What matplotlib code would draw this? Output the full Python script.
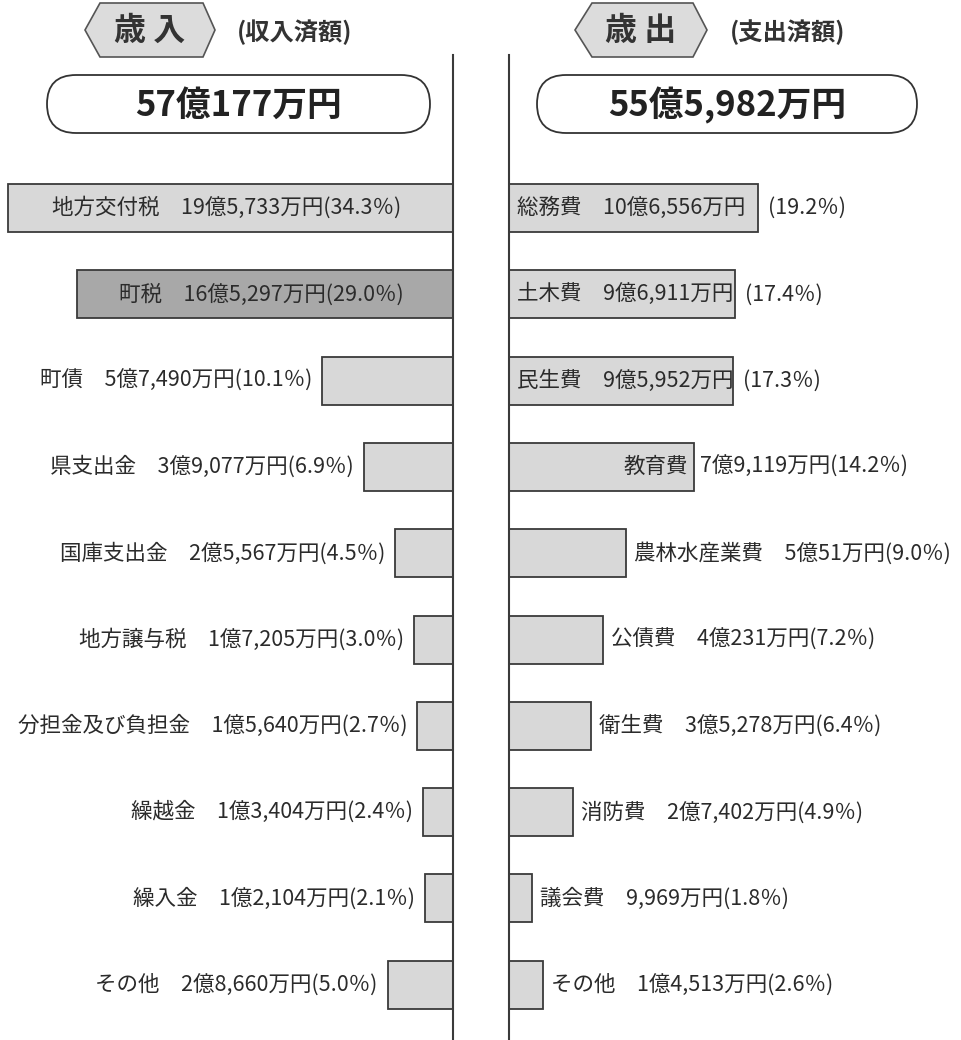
import numpy as np
import matplotlib
matplotlib.use('Agg')
import matplotlib.pyplot as plt
from matplotlib.patches import Polygon, FancyBboxPatch

plt.rcParams['font.family'] = ['Noto Sans CJK JP', 'DejaVu Sans']

# 歳入 (万円)
rev_labels = ['地方交付税', '町税', '町債', '県支出金', '国庫支出金', '地方譲与税',
              '分担金及び負担金', '繰越金', '繰入金', 'その他']
rev_values = [195733, 165297, 57490, 39077, 25567, 17205, 15640, 13404, 12104, 28660]
rev_pct = [34.3, 29.0, 10.1, 6.9, 4.5, 3.0, 2.7, 2.4, 2.1, 5.0]
rev_total = 570177

# 歳出 (万円)
exp_labels = ['総務費', '土木費', '民生費', '教育費', '農林水産業費', '公債費',
              '衛生費', '消防費', '議会費', 'その他']
exp_values = [106556, 96911, 95952, 79119, 50051, 40231, 35278, 27402, 9969, 14513]
exp_pct = [19.2, 17.4, 17.3, 14.2, 9.0, 7.2, 6.4, 4.9, 1.8, 2.6]
exp_total = 555982


def yen(v):
    oku, man = divmod(v, 10000)
    if oku:
        return f'{oku}億{man:,}万円'
    return f'{man:,}万円'


def pct(p):
    return f'({p:.1f}％)'


W, H = 961, 1040
fig = plt.figure(figsize=(W / 100, H / 100), dpi=100)

row0, step = 208, 86.3
ylim = ((H - row0) / step, -row0 / step)
bar_h = 48 / step
edge = '#3a3a3a'
txt = '#2b2b2b'
fs = 15.5

# 左: 歳入
axL = fig.add_axes([0, 0, 453 / W, 1])
axL.patch.set_alpha(0)
axL.set_xlim(453 / 22.73, 0)
axL.set_ylim(*ylim)
axL.axis('off')
rows = np.arange(len(rev_values))
rv = np.array(rev_values) / 10000
colors = ['#d8d8d8'] * len(rv)
colors[1] = '#a8a8a8'
axL.barh(rows, rv, height=bar_h, color=colors, edgecolor=edge, linewidth=1.3)
axL.axvline(0, ymin=0, ymax=(H - 55) / H, color=edge, lw=1.5, clip_on=False)
for i, (lab, v, p) in enumerate(zip(rev_labels, rev_values, rev_pct)):
    s = f'{lab}　{yen(v)}{pct(p)}'
    if i < 2:
        axL.annotate(s, (v / 10000 / 2, i), xytext=(-4, 0), textcoords='offset pixels',
                     ha='center', va='center', fontsize=fs, color=txt)
    else:
        axL.annotate(s, (v / 10000, i), xytext=(-10, 0), textcoords='offset pixels',
                     ha='right', va='center', fontsize=fs, color=txt)

# 右: 歳出
axR = fig.add_axes([509 / W, 0, (W - 509) / W, 1])
axR.patch.set_alpha(0)
axR.set_xlim(0, (W - 509) / 23.35)
axR.set_ylim(*ylim)
axR.axis('off')
ev = np.array(exp_values) / 10000
axR.barh(rows, ev, height=bar_h, color='#d8d8d8', edgecolor=edge, linewidth=1.3)
axR.axvline(0, ymin=0, ymax=(H - 55) / H, color=edge, lw=1.5, clip_on=False)
for i, (lab, v, p) in enumerate(zip(exp_labels, exp_values, exp_pct)):
    x = v / 10000
    if i < 3:
        axR.annotate(f'{lab}　{yen(v)}', (0, i), xytext=(8, 0), textcoords='offset pixels',
                     ha='left', va='center', fontsize=fs, color=txt)
        axR.annotate(pct(p), (x, i), xytext=(10, 0), textcoords='offset pixels',
                     ha='left', va='center', fontsize=fs, color=txt)
    elif i == 3:
        axR.annotate(lab, (x, i), xytext=(-6, 0), textcoords='offset pixels',
                     ha='right', va='center', fontsize=fs, color=txt)
        axR.annotate(f'{yen(v)}{pct(p)}', (x, i), xytext=(6, 0), textcoords='offset pixels',
                     ha='left', va='center', fontsize=fs, color=txt)
    else:
        axR.annotate(f'{lab}　{yen(v)}{pct(p)}', (x, i), xytext=(8, 0),
                     textcoords='offset pixels', ha='left', va='center',
                     fontsize=fs, color=txt, annotation_clip=False)

# 見出し
top = fig.add_axes([0, 0, 1, 1], zorder=5)
top.patch.set_alpha(0)
top.set_xlim(0, W)
top.set_ylim(H, 0)
top.axis('off')

for (x0, x1, x2, x3), title, sub, tx, sx in [
        ((85, 100, 203, 215), '歳 入', '(収入済額)', 150, 237),
        ((575, 592, 693, 707), '歳 出', '(支出済額)', 641, 730)]:
    top.add_patch(Polygon([(x0, 30), (x1, 3), (x2, 3), (x3, 30), (x2, 57), (x1, 57)],
                          closed=True, facecolor='#dcdcdc', edgecolor='#555555', lw=1.2))
    top.text(tx, 31, title, ha='center', va='center', fontsize=23, color='#333333',
             fontweight='bold')
    top.text(sx, 32, sub, ha='left', va='center', fontsize=17.5, color='#333333',
             fontweight='bold')

for bx, bw, total in [(47, 383, rev_total), (537, 380, exp_total)]:
    top.add_patch(FancyBboxPatch((bx, 75), bw, 58, boxstyle='round,pad=0,rounding_size=29',
                                 facecolor='white', edgecolor='#333333', lw=1.3))
    top.text(bx + bw / 2, 105, yen(total), ha='center', va='center', fontsize=25,
             color='#222222', fontweight='bold')

fig.savefig('out.png', dpi=100)
